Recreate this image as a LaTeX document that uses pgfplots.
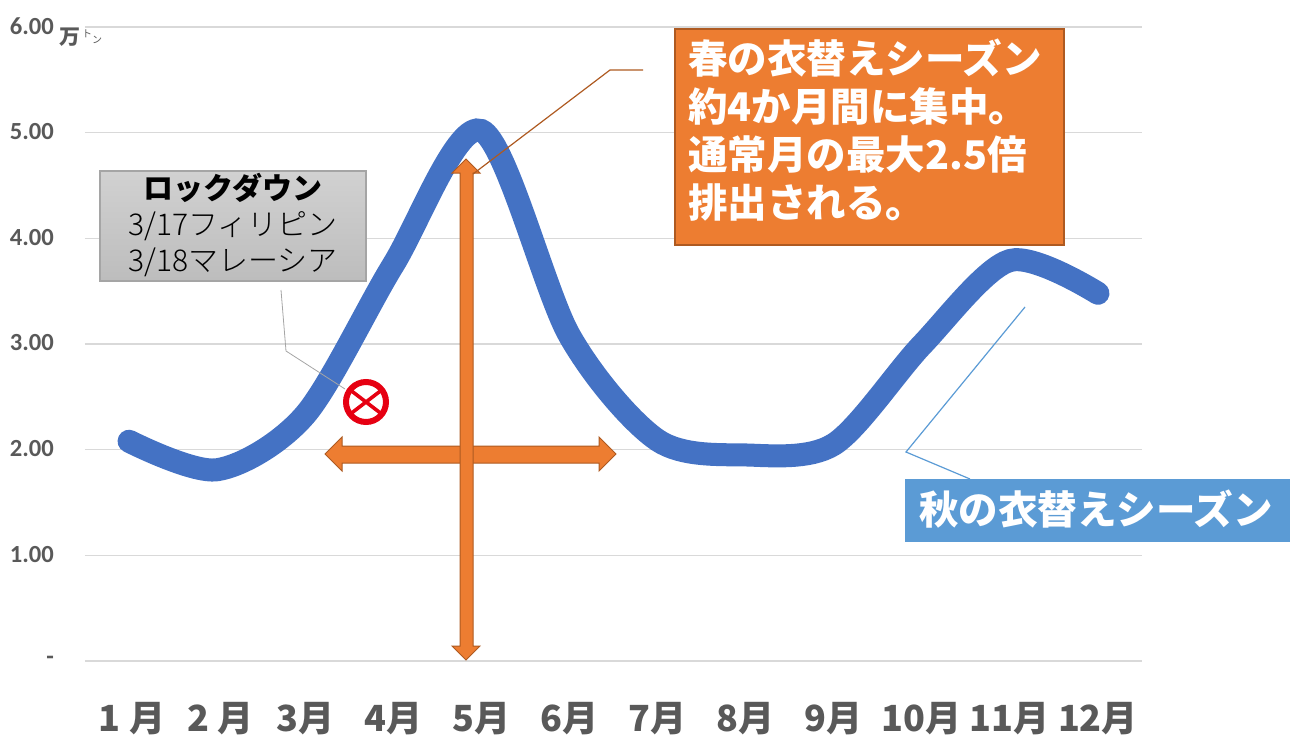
\documentclass[border=0pt]{standalone}
\usepackage{fontspec}
\usepackage{pgfplots}
\pgfplotsset{compat=1.18}
\newfontfamily\cjk{Noto Sans CJK JP}
\newfontfamily\cjklight{Noto Sans CJK JP Light}
\newfontfamily\carl{Carlito}
\definecolor{linecol}{HTML}{4472C4}
\definecolor{gridcol}{HTML}{D9D9D9}
\definecolor{labcol}{HTML}{595959}
\definecolor{orange1}{HTML}{ED7D31}
\definecolor{orange2}{HTML}{AE5A21}
\definecolor{blue1}{HTML}{5B9BD5}
\definecolor{gray1}{HTML}{A5A5A5}
\definecolor{signred}{HTML}{E60012}

\begin{document}
\begin{tikzpicture}
\useasboundingbox (0,0) rectangle (645pt,368pt);
\begin{axis}[
    at={(42.5pt,37.5pt)}, anchor=south west,
    scale only axis, width=528.5pt, height=317pt,
    xmin=0.5, xmax=12.5, ymin=0, ymax=6,
    axis line style={draw=none},
    major tick length=0pt,
    clip=false,
    ymajorgrids, grid style={gridcol, line width=0.6pt},
    xtick={1,2,3,4,5,6,7,8,9,10,11,12},
    xticklabels={\hspace{3pt}1 月,\hspace{3pt}2 月,3月,4月,5月,6月,7月,8月,9月,10月,11月,12月},
    ytick={0,1,2,3,4,5,6},
    yticklabels={-\hspace{7pt},1.00,2.00,3.00,4.00,5.00,6.00},
    x tick label style={font=\cjk\bfseries\fontsize{18}{20}\selectfont, text=labcol, anchor=center, yshift=-29pt},
    y tick label style={font=\carl\bfseries\fontsize{12.3}{14}\selectfont, text=labcol, anchor=east, xshift=-12pt, yshift=0.5pt},
]
\addplot[linecol, line width=11.5pt, smooth, tension=0.5, line cap=round, mark=none] coordinates {
    (1,2.08) (2,1.81) (3,2.33) (4,3.75) (5,5.02) (6,3.08)
    (7,2.09) (8,1.95) (9,2.05) (10,2.99) (11,3.79) (12,3.48)
};
\end{axis}

\begin{scope}[x=0.5pt, y=-0.5pt, shift={(0,368pt)}]
% unit label
\node[text=labcol, font=\cjk\bfseries\fontsize{10.5}{12}\selectfont, inner sep=0pt] at (70,37) {万};
\node[text=labcol, font=\cjk\fontsize{5}{5}\selectfont, inner sep=0pt] at (87,34) {ト};
\node[text=labcol, font=\cjk\fontsize{5}{5}\selectfont, inner sep=0pt] at (97,40) {ン};

% lockdown box
\draw[gray1, line width=0.4pt] (281,290) -- (286,351) -- (345,389);
\path[top color=black!18, bottom color=black!26, draw=gray1, line width=0.6pt] (100,171) rectangle (366,281);
\node[align=center, inner sep=0pt, font=\cjklight\fontsize{15}{18}\selectfont] at (233,225)
    {{\cjk\bfseries ロックダウン}\\3/17フィリピン\\3/18マレーシア};

% no entry sign
\fill[white] (366,402) circle (23);
\draw[signred, line width=3pt] (366,402) circle (20);
\draw[signred, line width=1.8pt] (349,389) -- (383,415) (349,415) -- (383,389);

% arrows
\filldraw[fill=orange1, draw=orange2, line width=0.5pt, line join=miter]
    (325,454) -- (342,437) -- (342,446) -- (599,446) -- (599,437) -- (616,454)
    -- (599,471) -- (599,463) -- (342,463) -- (342,471) -- cycle;
\filldraw[fill=orange1, draw=orange2, line width=0.5pt, line join=miter]
    (466,159) -- (480,173) -- (473,173) -- (473,646) -- (480,646) -- (466,660)
    -- (452,646) -- (460,646) -- (460,173) -- (452,173) -- cycle;

% spring callout
\draw[orange2, line width=0.6pt] (643,70) -- (610,70) -- (473,174);
\filldraw[fill=orange1, draw=orange2, line width=0.6pt] (675,29) rectangle (1064,245);
\node[anchor=north west, align=left, inner sep=0pt, text=white, font=\cjk\bfseries\fontsize{19.75}{24}\selectfont] at (688,38)
    {春の衣替えシーズン\\約4か月間に集中。\\通常月の最大2.5倍\\排出される。};

% autumn callout
\draw[blue1, line width=0.6pt] (1025,307) -- (906,452) -- (970,479);
\fill[blue1] (905,479) rectangle (1290,542);
\node[anchor=west, inner sep=0pt, text=white, font=\cjk\bfseries\fontsize{19.75}{24}\selectfont] at (919,509)
    {秋の衣替えシーズン};
\end{scope}
\end{tikzpicture}
\end{document}
